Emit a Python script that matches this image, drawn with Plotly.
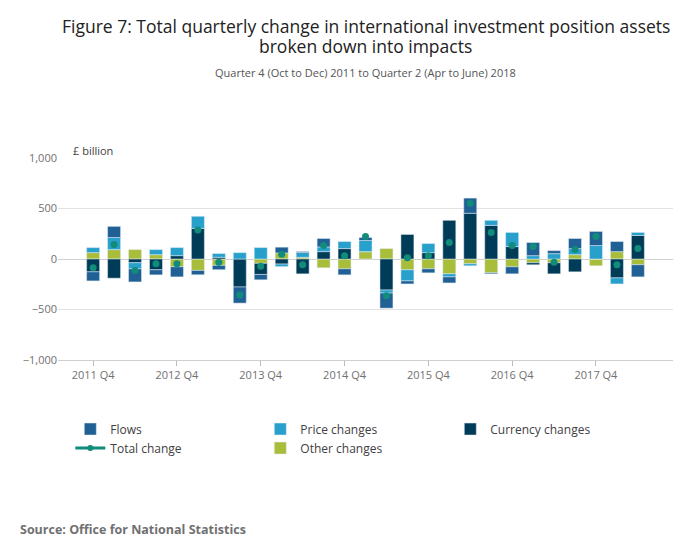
import plotly.graph_objects as go

quarters = []
for y in range(2011, 2019):
    for q in range(1, 5):
        if (y == 2011 and q < 4) or (y == 2018 and q > 2):
            continue
        quarters.append(f"{y} Q{q}")

flows    = [-90, 110, -130, -50, -100, -43, -43, -160, -53, 57, 10, 83, -60, 30, -150, -30, -40, -60, 150, -10, -70, 130, 30, 100, 140, 100, -120]
price    = [50, 120, -60, 50, 80, 120, 37, 63, 113, -25, 47, 47, 70, 110, -30, -110, 90, -30, -20, 50, 140, 33, 53, 60, 133, -60, 30]
currency = [-127, -190, -37, -107, 33, 303, 17, -277, -110, -50, -147, 73, 103, 0, -307, 243, 63, 383, 453, 333, 123, -20, -110, -127, 0, -187, 233]
other    = [63, 93, 93, 43, -77, -113, -63, 0, -43, 60, 17, -87, -97, 73, 103, -107, -97, -147, -47, -137, -77, -37, -37, 43, -67, 73, -57]
total    = [-87, 143, -113, -47, -47, 287, -33, -357, -73, 47, -57, 133, 33, 223, -363, 13, 33, 163, 553, 263, 133, 123, -33, 93, 223, -57, 103]

tick_labels = [q for q in quarters if q.endswith("Q4")]

C_FLOW, C_PRICE, C_CUR, C_OTH, C_TOT = "#206095", "#27a0cc", "#003c57", "#a8bd3a", "#118c7b"

fig = go.Figure()
fig.add_bar(x=quarters, y=other, name="Other changes", marker_color=C_OTH, legendrank=5)
fig.add_bar(x=quarters, y=currency, name="Currency changes", marker_color=C_CUR, legendrank=3)
fig.add_bar(x=quarters, y=price, name="Price changes", marker_color=C_PRICE, legendrank=2)
fig.add_bar(x=quarters, y=flows, name="Flows", marker_color=C_FLOW, legendrank=1)
fig.add_scatter(x=quarters, y=total, mode="markers", marker=dict(color=C_TOT, size=7),
                name="Total change", showlegend=False)
fig.add_scatter(x=[None], y=[None], mode="lines+markers", name="Total change",
                line=dict(color=C_TOT, width=3), marker=dict(color=C_TOT, size=6), legendrank=4)

fig.update_layout(
    width=700, height=549, barmode="relative", bargap=0.38,
    paper_bgcolor="white", plot_bgcolor="white",
    font=dict(family="Open Sans", color="#414042", size=11),
    margin=dict(l=50, r=35, t=150, b=197, autoexpand=False),
    legend=dict(orientation="h", x=0.02, y=-0.27, xanchor="left", yanchor="top",
                entrywidth=145, font=dict(size=12, color="#414042"), traceorder="normal"),
    showlegend=True,
)
fig.update_yaxes(range=[-1000, 1000], dtick=500, tickformat=",", gridcolor="#e2e2e3",
                 zeroline=True, zerolinecolor="#d0d0d0", zerolinewidth=1,
                 tickfont=dict(color="#707071"), automargin=False)
fig.update_xaxes(tickmode="array", tickvals=tick_labels, ticktext=tick_labels,
                 ticks="outside", ticklen=5, tickcolor="#bbb", showline=True,
                 linecolor="#d0d0d0", tickfont=dict(color="#707071"), automargin=False)
fig.add_annotation(text="Figure 7: Total quarterly change in international investment position assets",
                   xref="paper", yref="paper", x=0.5, y=1.0, yshift=132, yanchor="middle",
                   showarrow=False, font=dict(size=17.5, color="#222"))
fig.add_annotation(text="broken down into impacts",
                   xref="paper", yref="paper", x=0.5, y=1.0, yshift=112, yanchor="middle",
                   showarrow=False, font=dict(size=17.5, color="#222"))
fig.add_annotation(text="Quarter 4 (Oct to Dec) 2011 to Quarter 2 (Apr to June) 2018",
                   xref="paper", yref="paper", x=0.5, y=1.0, yshift=86, yanchor="middle",
                   showarrow=False, font=dict(size=11, color="#555"))
fig.add_annotation(text="£ billion", xref="paper", yref="paper", x=0.0, y=1.0,
                   xanchor="left", yanchor="middle", showarrow=False,
                   font=dict(size=11, color="#414042"), yshift=8, xshift=13)
fig.add_annotation(text="<b>Source: Office for National Statistics</b>", xref="paper", yref="paper",
                   x=-0.065, y=-0.837, xanchor="left", yanchor="middle", showarrow=False,
                   font=dict(size=12.5, color="#707071"))
fig.write_html("out.html")
